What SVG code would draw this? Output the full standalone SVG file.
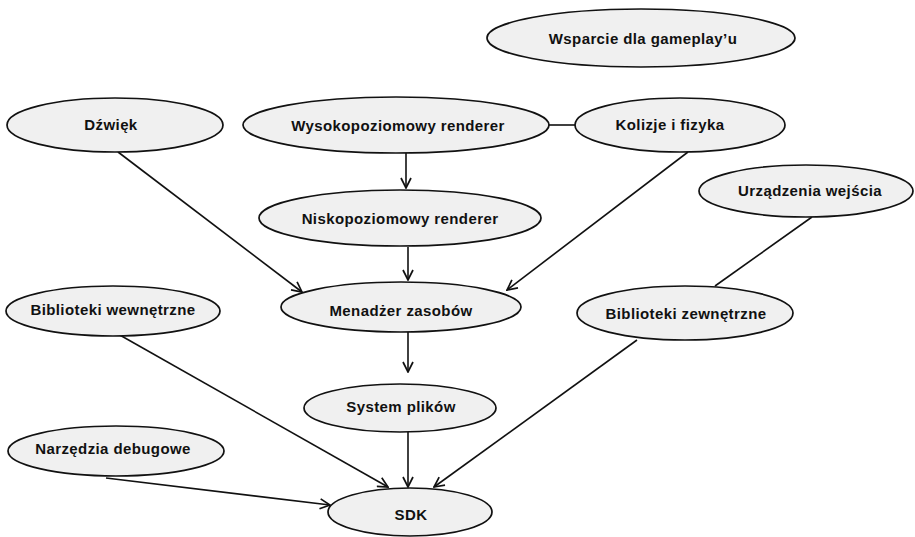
<svg xmlns="http://www.w3.org/2000/svg" width="915" height="537" viewBox="0 0 915 537">
  <defs>
    <marker id="arrow" viewBox="0 0 12 12" refX="11" refY="6" markerWidth="12" markerHeight="12" markerUnits="userSpaceOnUse" orient="auto">
      <path d="M1,1 L11,6 L1,11" fill="none" stroke="#111" stroke-width="1.7"/>
    </marker>
  </defs>
  <style>
    .node ellipse { fill: #f0f0f0; stroke: #111; stroke-width: 1.7; }
    .node text { font-family: "Liberation Sans", Arial, sans-serif; font-weight: bold; font-size: 15px; letter-spacing: 0.4px; fill: #111; text-anchor: middle; dominant-baseline: central; }
    .edges line { stroke: #111; stroke-width: 1.6; }
    .edges .dir { marker-end: url(#arrow); }
  </style>
  <rect width="915" height="537" fill="#fff"/>

  <g class="edges">
    <line x1="549" y1="125" x2="575" y2="125"/>
    <line x1="812" y1="217" x2="715" y2="286"/>
    <line class="dir" x1="406" y1="153" x2="406" y2="188"/>
    <line class="dir" x1="408" y1="247" x2="408" y2="280"/>
    <line class="dir" x1="118" y1="152" x2="302" y2="292"/>
    <line class="dir" x1="688" y1="152" x2="507" y2="290"/>
    <line class="dir" x1="408" y1="332" x2="408" y2="372"/>
    <line class="dir" x1="118" y1="334" x2="388" y2="487"/>
    <line class="dir" x1="408" y1="432" x2="408" y2="487"/>
    <line class="dir" x1="637" y1="340" x2="434" y2="487"/>
    <line class="dir" x1="106" y1="478" x2="330" y2="505"/>
  </g>

  <g id="wsparcie" class="node">
    <ellipse cx="641" cy="38" rx="154" ry="29"/>
    <text x="643" y="38">Wsparcie dla gameplay’u</text>
  </g>
  <g id="dzwiek" class="node">
    <ellipse cx="115" cy="125" rx="108" ry="27"/>
    <text x="111" y="124">Dźwięk</text>
  </g>
  <g id="renderer-wysoki" class="node">
    <ellipse cx="396" cy="125" rx="153" ry="28"/>
    <text x="398" y="125">Wysokopoziomowy renderer</text>
  </g>
  <g id="kolizje" class="node">
    <ellipse cx="680" cy="125" rx="105" ry="27"/>
    <text x="670" y="124">Kolizje i fizyka</text>
  </g>
  <g id="renderer-niski" class="node">
    <ellipse cx="400" cy="218" rx="141" ry="28"/>
    <text x="400" y="218">Niskopoziomowy renderer</text>
  </g>
  <g id="urzadzenia" class="node">
    <ellipse cx="806" cy="191" rx="107" ry="26"/>
    <text x="810" y="190">Urządzenia wejścia</text>
  </g>
  <g id="menadzer" class="node">
    <ellipse cx="401" cy="307" rx="120" ry="25"/>
    <text x="401" y="310">Menadżer zasobów</text>
  </g>
  <g id="biblioteki-wew" class="node">
    <ellipse cx="113" cy="311" rx="107" ry="25"/>
    <text x="113" y="309">Biblioteki wewnętrzne</text>
  </g>
  <g id="biblioteki-zew" class="node">
    <ellipse cx="685" cy="313" rx="108" ry="27"/>
    <text x="686" y="313">Biblioteki zewnętrzne</text>
  </g>
  <g id="system-plikow" class="node">
    <ellipse cx="400" cy="408" rx="96" ry="24"/>
    <text x="401" y="406">System plików</text>
  </g>
  <g id="narzedzia" class="node">
    <ellipse cx="116" cy="451" rx="108" ry="25"/>
    <text x="113" y="448">Narzędzia debugowe</text>
  </g>
  <g id="sdk" class="node">
    <ellipse cx="410" cy="512" rx="82" ry="24"/>
    <text x="411" y="514">SDK</text>
  </g>
</svg>
